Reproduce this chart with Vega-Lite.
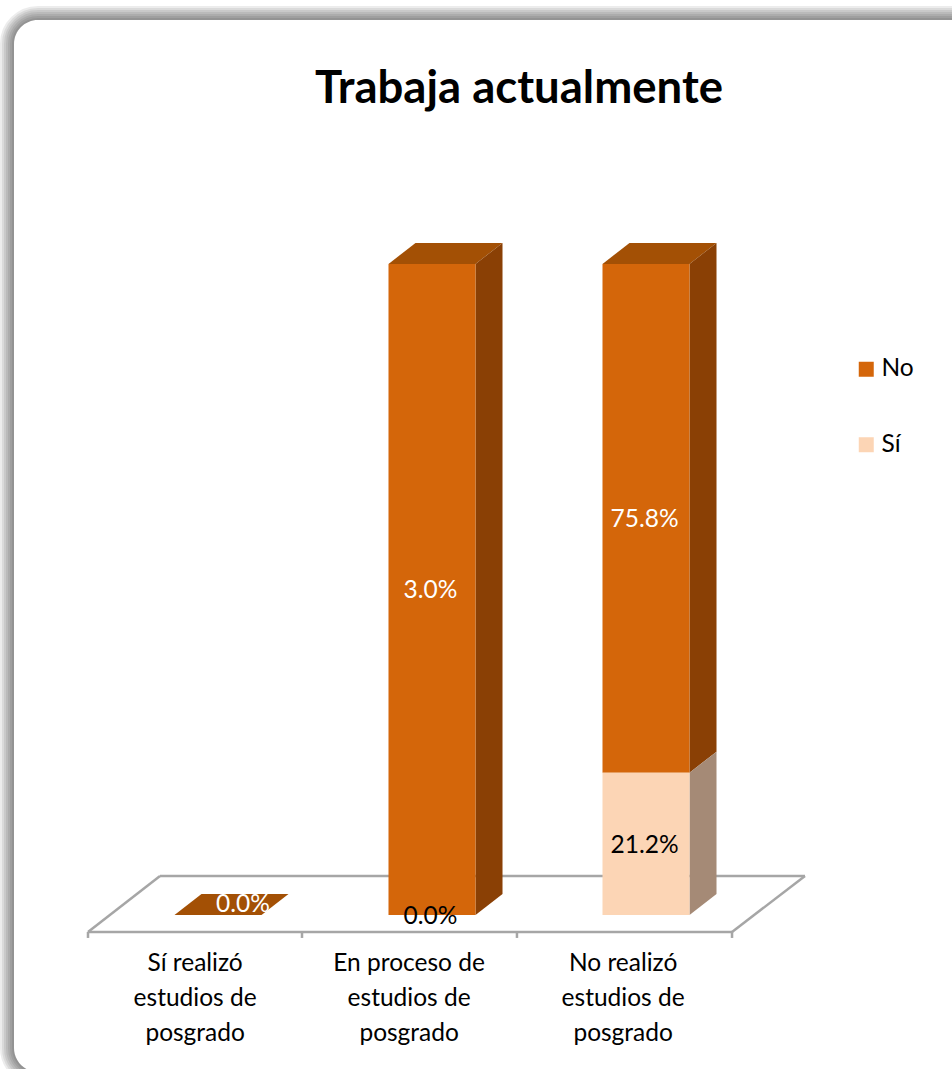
{
"$schema":"https://vega.github.io/schema/vega-lite/v6.json",
"width":952,"height":1069,"padding":0,"autosize":"none",
"background":"white",
"config":{"view":{"stroke":null},"font":"Lato"},
"title":{"text":"Trabaja actualmente","font":"Lato","fontSize":45.5,"fontWeight":"bold","color":"#000000","anchor":"middle","dx":43,"dy":148,"baseline":"alphabetic","offset":0},
"datasets":{
"bars":[
{"category":"Sí realizó\nestudios de\nposgrado","idx":1,"series":"No","value":0.0},
{"category":"En proceso de\nestudios de\nposgrado","idx":2,"series":"No","value":0.03},
{"category":"En proceso de\nestudios de\nposgrado","idx":2,"series":"Sí","value":0.0},
{"category":"No realizó\nestudios de\nposgrado","idx":3,"series":"No","value":0.758},
{"category":"No realizó\nestudios de\nposgrado","idx":3,"series":"Sí","value":0.212}
],
"floor":[
{"xv":0.3925,"x2v":3.402,"yv":-0.0261,"y2v":-0.0261},
{"xv":0.3925,"x2v":0.729,"yv":-0.0261,"y2v":0.0599},
{"xv":0.729,"x2v":3.743,"yv":0.0599,"y2v":0.0599},
{"xv":3.402,"x2v":3.743,"yv":-0.0261,"y2v":0.0599},
{"xv":0.3925,"x2v":0.3925,"yv":-0.0261,"y2v":-0.0353},
{"xv":1.3925,"x2v":1.3925,"yv":-0.0261,"y2v":-0.0353},
{"xv":2.397,"x2v":2.397,"yv":-0.0261,"y2v":-0.0353},
{"xv":3.402,"x2v":3.402,"yv":-0.0261,"y2v":-0.0353}
],
"frame":[{"xv":0.0467,"x2v":4.7,"yv":-0.2412,"y2v":1.3748}]
},
"data":{"name":"bars"},
"transform":[
{"stack":"value","groupby":["idx"],"offset":"normalize","sort":[{"field":"series","order":"descending"}],"as":["lo0","hi0"]},
{"calculate":"isFinite(datum.lo0)?datum.lo0:0","as":"lo"},
{"calculate":"isFinite(datum.hi0)?datum.hi0:0","as":"hi"},
{"calculate":"datum.idx-0.2033","as":"left"},
{"calculate":"datum.idx+0.2033","as":"right"},
{"calculate":"(datum.lo+datum.hi)/2","as":"mid"}
],
"encoding":{
"x":{"field":"xv","type":"quantitative","scale":{"domain":[-0.01869,4.4299],"nice":false,"zero":false},"axis":null},
"y":{"field":"yv","type":"quantitative","scale":{"domain":[-0.2366,1.4055],"nice":false,"zero":false},"axis":null}
},
"layer":[
{"data":{"name":"frame"},"mark":{"type":"rect","clip":true,"cornerRadius":24,"fillOpacity":0,"stroke":"#000000","strokeOpacity":0.075,"strokeWidth":28},"encoding":{"x2":{"field":"x2v"},"y2":{"field":"y2v"}}},
{"data":{"name":"frame"},"mark":{"type":"rect","clip":true,"cornerRadius":24,"fillOpacity":0,"stroke":"#000000","strokeOpacity":0.075,"strokeWidth":24},"encoding":{"x2":{"field":"x2v"},"y2":{"field":"y2v"}}},
{"data":{"name":"frame"},"mark":{"type":"rect","clip":true,"cornerRadius":24,"fillOpacity":0,"stroke":"#000000","strokeOpacity":0.075,"strokeWidth":20},"encoding":{"x2":{"field":"x2v"},"y2":{"field":"y2v"}}},
{"data":{"name":"frame"},"mark":{"type":"rect","clip":true,"cornerRadius":24,"fillOpacity":0,"stroke":"#000000","strokeOpacity":0.075,"strokeWidth":16},"encoding":{"x2":{"field":"x2v"},"y2":{"field":"y2v"}}},
{"data":{"name":"frame"},"mark":{"type":"rect","clip":true,"cornerRadius":24,"fillOpacity":0,"stroke":"#000000","strokeOpacity":0.075,"strokeWidth":12},"encoding":{"x2":{"field":"x2v"},"y2":{"field":"y2v"}}},
{"data":{"name":"frame"},"mark":{"type":"rect","clip":true,"cornerRadius":24,"fillOpacity":0,"stroke":"#000000","strokeOpacity":0.075,"strokeWidth":8},"encoding":{"x2":{"field":"x2v"},"y2":{"field":"y2v"}}},
{"data":{"name":"frame"},"mark":{"type":"rect","clip":true,"cornerRadius":24,"fillOpacity":0,"stroke":"#000000","strokeOpacity":0.075,"strokeWidth":4},"encoding":{"x2":{"field":"x2v"},"y2":{"field":"y2v"}}},
{"data":{"name":"frame"},"mark":{"type":"rect","clip":true,"cornerRadius":24,"fill":"#ffffff","stroke":null},"encoding":{"x2":{"field":"x2v"},"y2":{"field":"y2v"}}},
{"data":{"name":"floor"},"mark":{"type":"rule","color":"#A6A6A6","strokeWidth":2.5},"encoding":{"x2":{"field":"x2v"},"y2":{"field":"y2v"}}},
{"transform":[{"filter":"datum.series==='No'"},{"calculate":"[0,1]","as":"t"},{"flatten":["t"]},{"calculate":"datum.left+datum.t*0.1262","as":"xv"},{"calculate":"datum.right+datum.t*0.1262","as":"x2v"},{"calculate":"datum.hi+datum.t*0.0323","as":"yv"}],
 "mark":{"type":"area","orient":"horizontal","color":"#A35005"},
 "encoding":{"x2":{"field":"x2v"},"y":{"field":"yv","type":"quantitative","stack":null},"detail":{"field":"idx"}}},
{"transform":[{"filter":"datum.series==='No' && datum.hi>datum.lo"},{"calculate":"[0,1]","as":"t"},{"flatten":["t"]},{"calculate":"datum.right+datum.t*0.1262","as":"xv"},{"calculate":"datum.hi+datum.t*0.0323","as":"yv"},{"calculate":"datum.lo+datum.t*0.0323","as":"y2v"}],
 "mark":{"type":"area","color":"#8A4005"},
 "encoding":{"y":{"field":"yv","type":"quantitative","stack":null},"y2":{"field":"y2v"},"detail":{"field":"idx"}}},
{"transform":[{"filter":"datum.series==='Sí' && datum.hi>datum.lo"},{"calculate":"[0,1]","as":"t"},{"flatten":["t"]},{"calculate":"datum.right+datum.t*0.1262","as":"xv"},{"calculate":"datum.hi+datum.t*0.0323","as":"yv"},{"calculate":"datum.lo+datum.t*0.0323","as":"y2v"}],
 "mark":{"type":"area","color":"#A58A76"},
 "encoding":{"y":{"field":"yv","type":"quantitative","stack":null},"y2":{"field":"y2v"},"detail":{"field":"idx"}}},
{"transform":[{"calculate":"datum.left","as":"xv"},{"calculate":"datum.right","as":"x2v"},{"calculate":"datum.lo","as":"yv"},{"calculate":"datum.hi","as":"y2v"}],
 "mark":{"type":"rect"},
 "encoding":{"x2":{"field":"x2v"},"y2":{"field":"y2v"},
 "color":{"field":"series","type":"nominal","scale":{"domain":["No","Sí"],"range":["#D4660A","#FCD5B5"]},
 "legend":{"title":null,"orient":"none","legendX":854,"legendY":357,"symbolType":"square","symbolSize":225,"symbolStrokeWidth":0,"symbolOpacity":1,"labelFont":"Lato","labelFontSize":24.5,"labelColor":"#000000","labelOffset":3,"rowPadding":50.5}}}},
{"transform":[{"filter":"datum.series==='No' && datum.idx>1"},{"calculate":"datum.idx-0.007","as":"xv"},{"calculate":"datum.mid","as":"yv"}],
 "mark":{"type":"text","font":"Lato","fontSize":24.5,"color":"#ffffff","dy":2},
 "encoding":{"text":{"field":"value","type":"quantitative","format":".1%"}}},
{"transform":[{"filter":"datum.series==='No' && datum.idx===1"},{"calculate":"datum.idx","as":"xv"},{"calculate":"datum.mid","as":"yv"}],
 "mark":{"type":"text","font":"Lato","fontSize":24.5,"color":"#ffffff","dx":25,"dy":-10},
 "encoding":{"text":{"field":"value","type":"quantitative","format":".1%"}}},
{"transform":[{"filter":"datum.series==='Sí'"},{"calculate":"datum.idx-0.007","as":"xv"},{"calculate":"datum.mid","as":"yv"}],
 "mark":{"type":"text","font":"Lato","fontSize":24.5,"color":"#000000","dy":2},
 "encoding":{"text":{"field":"value","type":"quantitative","format":".1%"}}},
{"transform":[{"filter":"datum.series==='No'"},{"calculate":"datum.idx-0.107","as":"xv"},{"calculate":"-0.0575","as":"yv"}],
 "mark":{"type":"text","font":"Lato","fontSize":24.5,"color":"#000000","baseline":"top","align":"center","lineBreak":"\n","lineHeight":35},
 "encoding":{"text":{"field":"category","type":"nominal"}}}
]
}
